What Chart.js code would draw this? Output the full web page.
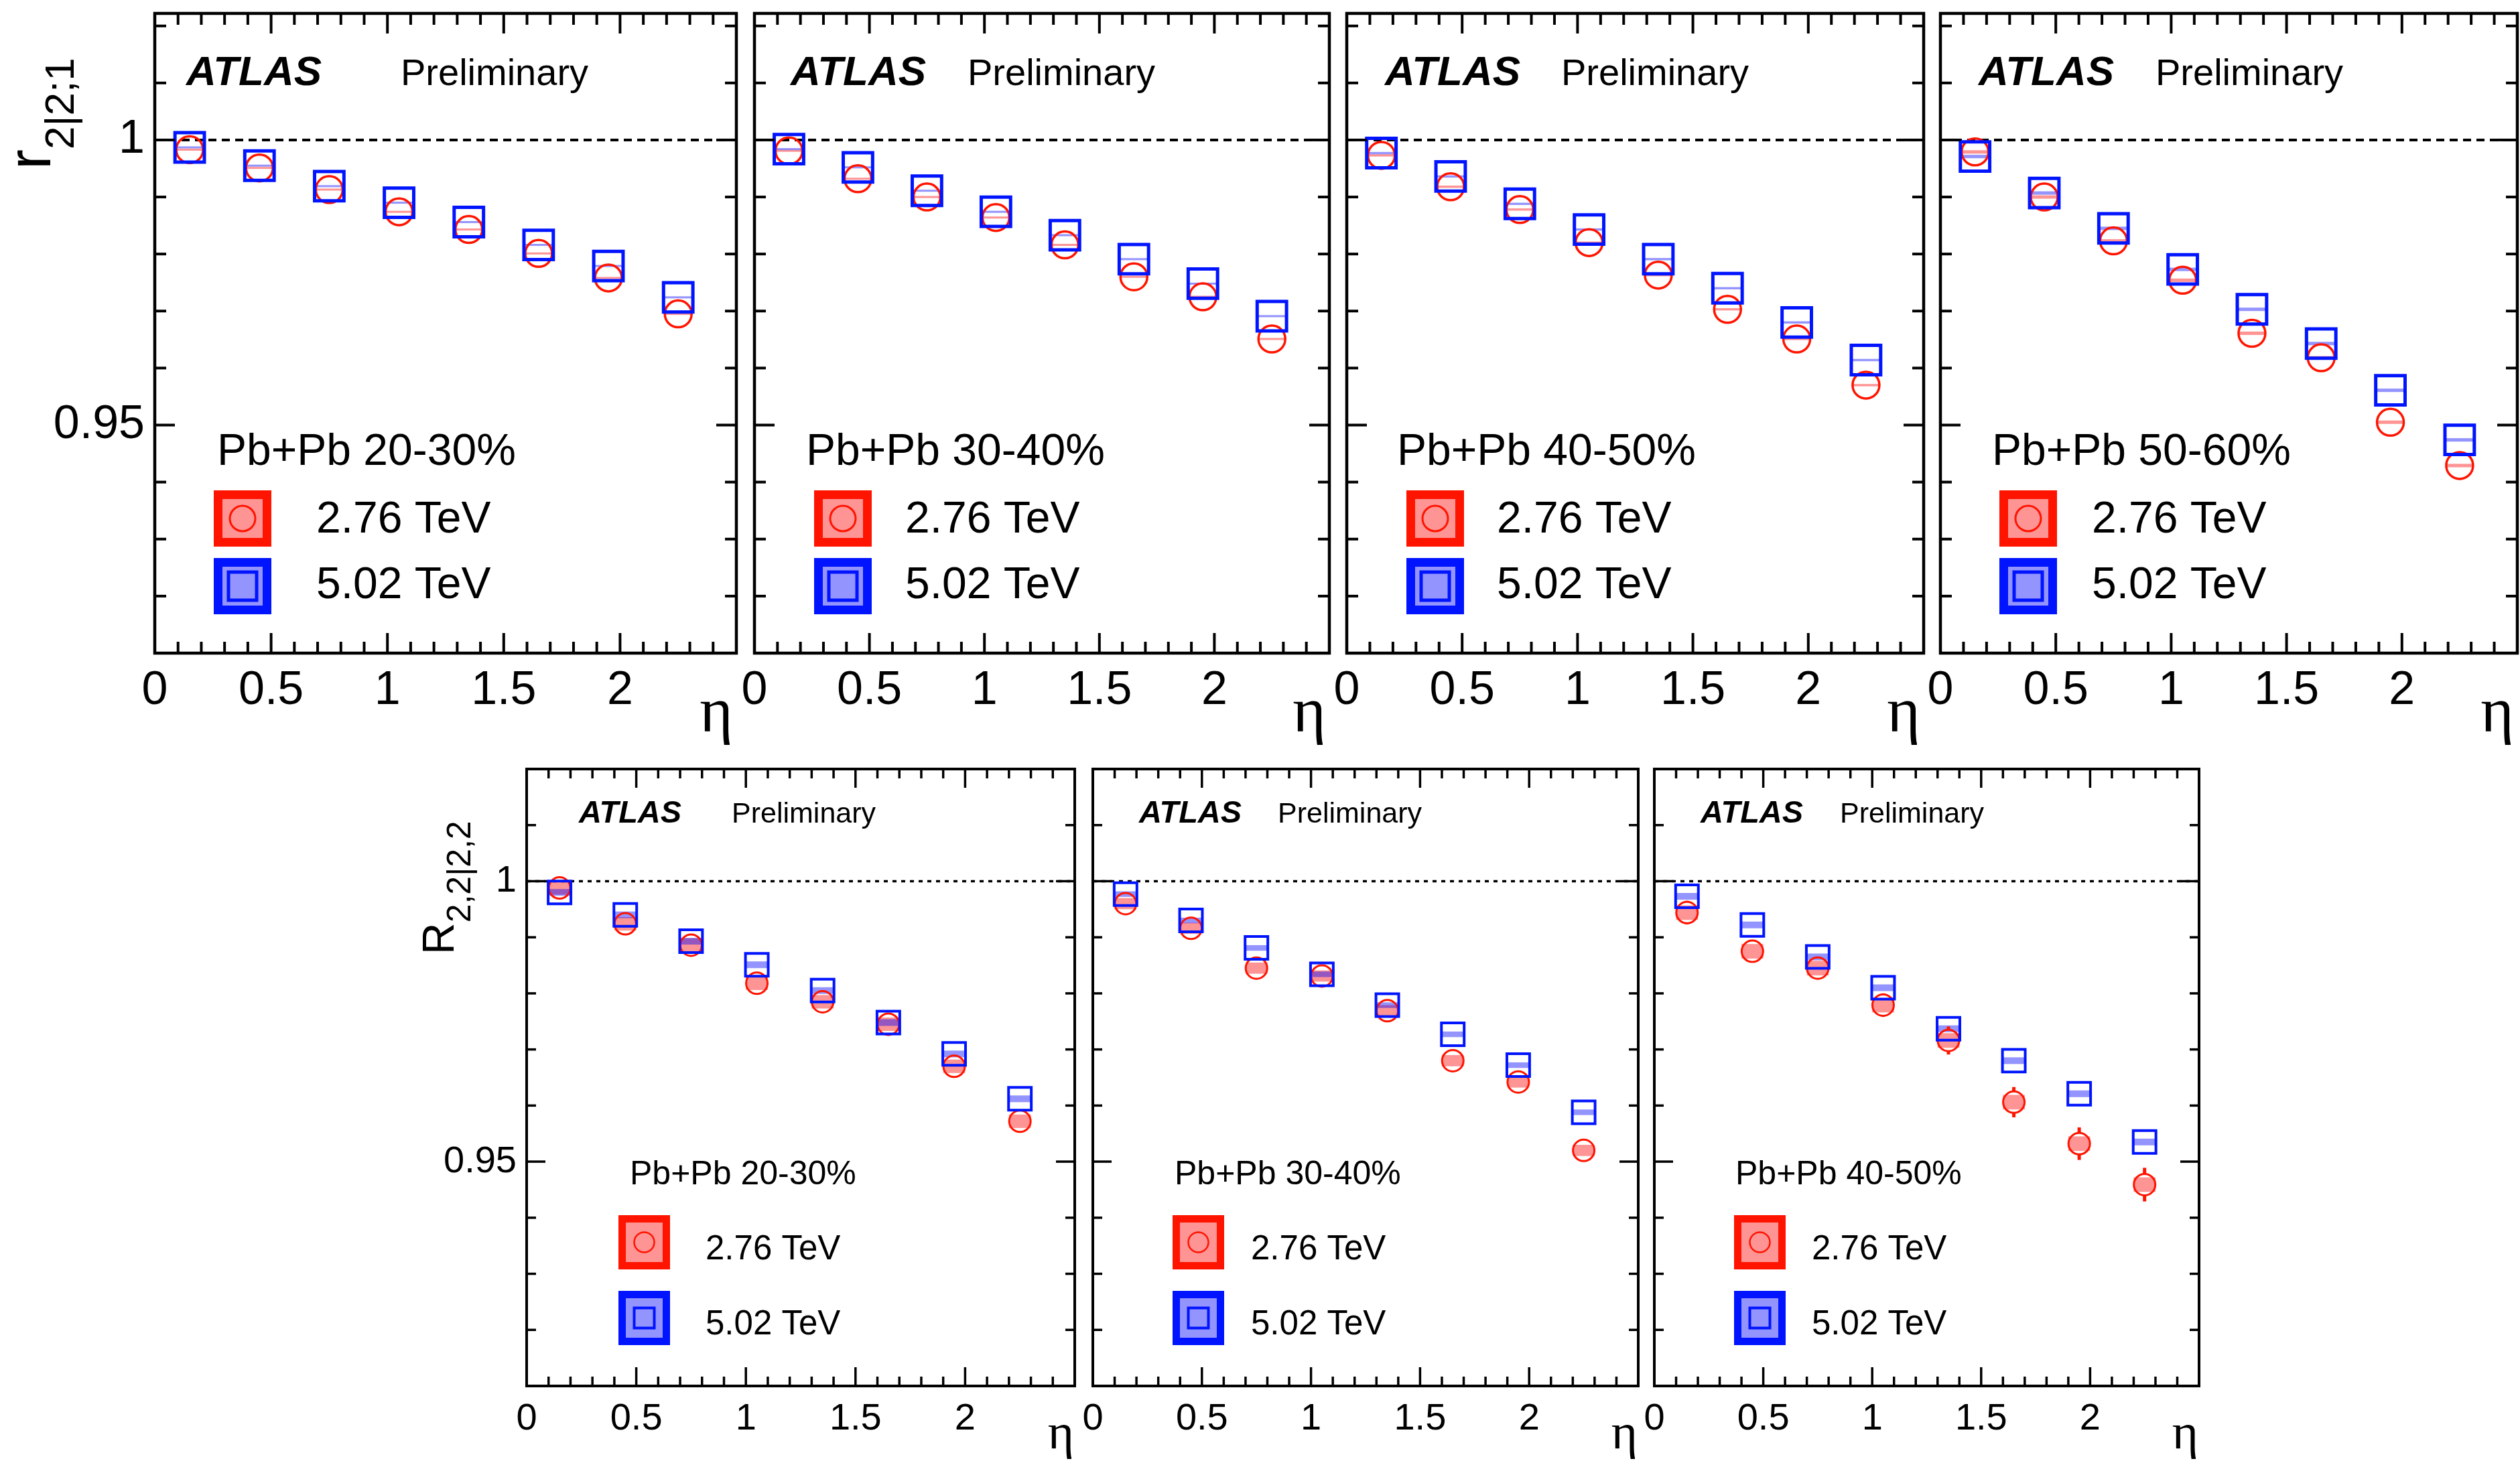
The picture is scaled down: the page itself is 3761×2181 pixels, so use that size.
<!DOCTYPE html>
<html>
<head>
<meta charset="utf-8">
<script src="https://cdn.jsdelivr.net/npm/chart.js@4.4.1/dist/chart.umd.min.js"></script>
<style>
  html, body { margin: 0; padding: 0; background: #fff; }
  #wrap { position: relative; width: 3761px; height: 2181px; overflow: hidden; background: #fff; }
  canvas { position: absolute; }
</style>
</head>
<body>
<div id="wrap"></div>
<script>
// eta bin centres (same for every panel)
const etaCenters = [0.15, 0.45, 0.75, 1.05, 1.35, 1.65, 1.95, 2.25];

const xTickValues = [0, 0.5, 1, 1.5, 2];
const xTickLabels = ['0', '0.5', '1', '1.5', '2'];
const yTickValues = [0.95, 1];
const yTickLabels = ['0.95', '1'];

const centTop = ['Pb+Pb 20-30%', 'Pb+Pb 30-40%', 'Pb+Pb 40-50%', 'Pb+Pb 50-60%'];
const centBottom = ['Pb+Pb 20-30%', 'Pb+Pb 30-40%', 'Pb+Pb 40-50%'];
const energyLabels = ['2.76 TeV', '5.02 TeV'];

// r_{2|2;1} (top row)
const r2030_276 = [0.9983, 0.9951, 0.9913, 0.9874, 0.9843, 0.9801, 0.9758, 0.9695];
const r2030_502 = [0.9987, 0.9955, 0.9919, 0.9890, 0.9856, 0.9816, 0.9779, 0.9724];
const r3040_276 = [0.9981, 0.9932, 0.9900, 0.9864, 0.9816, 0.9760, 0.9725, 0.9651];
const r3040_502 = [0.9984, 0.9952, 0.9911, 0.9874, 0.9833, 0.9791, 0.9748, 0.9691];
const r4050_276 = [0.9973, 0.9918, 0.9878, 0.9820, 0.9763, 0.9703, 0.9651, 0.9570];
const r4050_502 = [0.9977, 0.9936, 0.9888, 0.9843, 0.9791, 0.9740, 0.9680, 0.9614];
const r5060_276 = [0.9979, 0.9900, 0.9823, 0.9754, 0.9661, 0.9618, 0.9505, 0.9429];
const r5060_502 = [0.9971, 0.9907, 0.9845, 0.9773, 0.9703, 0.9643, 0.9561, 0.9474];

// R_{2,2|2,2} (bottom row)
const R2030_276 = [0.9988, 0.9924, 0.9886, 0.9818, 0.9785, 0.9745, 0.9670, 0.9572];
const R2030_502 = [0.9980, 0.9940, 0.9893, 0.9851, 0.9805, 0.9748, 0.9692, 0.9612];
const R3040_276 = [0.9960, 0.9916, 0.9845, 0.9831, 0.9769, 0.9680, 0.9642, 0.9520];
const R3040_502 = [0.9977, 0.9930, 0.9881, 0.9834, 0.9779, 0.9727, 0.9672, 0.9588];
const R4050_276 = [0.9944, 0.9875, 0.9845, 0.9779, 0.9716, 0.9606, 0.9532, 0.9459];
const R4050_502 = [0.9973, 0.9922, 0.9865, 0.9810, 0.9737, 0.9680, 0.9621, 0.9535];
const R4050_276_stat = [0.0021, 0.0020, 0.0020, 0.0021, 0.0025, 0.0027, 0.0029, 0.0030];

// systematic half-heights, one per panel (4 top, 3 bottom)
const sys276 = [0.00018, 0.00018, 0.0002, 0.0003, 0.0012, 0.0010, 0.0013];
const sys502 = [0.00018, 0.00018, 0.0002, 0.0003, 0.0006, 0.0005, 0.0006];

const RED = '#ff1400';
const BLUE = '#0014ff';
const SYS_RED = 'rgba(255,0,0,0.42)';
const SYS_BLUE = 'rgba(0,0,255,0.42)';
const SANS = '"Liberation Sans", Arial, Helvetica, sans-serif';
const SERIF = '"Liberation Serif", "Times New Roman", serif';

Chart.defaults.font.family = SANS;

const TOP = {
  tickFont: 70, tickPad: 15, atlasFont: 62, prelimFont: 56, centFont: 66, energyFont: 66, etaFont: 95,
  circleR: 20, rectR: 31, circleBW: 3.5, rectBW: 5,
  frameLW: 4.5, tickLW: 4, majorLen: 30, minorLen: 17, dash: [12, 8], dashLW: 4,
  atlasDy: 107, centDy: 674, box1Dy: 712, box2Dy: 813, boxW: 86, boxH: 84, boxLW: 13,
  text1Dy: 775, text2Dy: 873, legCircleR: 19, legCircleLW: 3, legSquareHalf: 21, legSquareLW: 5,
  etaDx: -5, etaDy: 117, sysHalfW: 0.06, padT: 20, padR: 15, padB: 160
};
const BOTTOM = {
  tickFont: 56, tickPad: 16, atlasFont: 47, prelimFont: 43, centFont: 50, energyFont: 51, etaFont: 75,
  circleR: 16, rectR: 24, circleBW: 3, rectBW: 4,
  frameLW: 4, tickLW: 3.5, majorLen: 28, minorLen: 14, dash: [6, 7], dashLW: 3.5,
  atlasDy: 80, centDy: 620, box1Dy: 666, box2Dy: 779, boxW: 77, boxH: 81, boxLW: 11,
  text1Dy: 732, text2Dy: 844, legCircleR: 15, legCircleLW: 2.5, legSquareHalf: 15, legSquareLW: 4,
  etaDx: -1, etaDy: 93, sysHalfW: 0.05, padT: 20, padR: 15, padB: 112
};

const panels = [
  { frame: [231, 20, 1099, 975], st: TOP, yMin: 0.91, yMax: 1.0222, cent: centTop[0], v276: r2030_276, v502: r2030_502, s: 0,
    yLabels: true, yTitle: { main: 'r', sub: '2|2;1', dx: -156, dy: 233, mainFont: 90, subFont: 62, subDy: 35 },
    off: { atlas: 47, prelim: 367, cent: 93, box: 88, text: 241 } },
  { frame: [1126, 20, 1984, 975], st: TOP, yMin: 0.91, yMax: 1.0222, cent: centTop[1], v276: r3040_276, v502: r3040_502, s: 1,
    off: { atlas: 54, prelim: 318, cent: 77, box: 89, text: 225 } },
  { frame: [2010, 20, 2871, 975], st: TOP, yMin: 0.91, yMax: 1.0222, cent: centTop[2], v276: r4050_276, v502: r4050_502, s: 2,
    off: { atlas: 57, prelim: 320, cent: 75, box: 89, text: 224 } },
  { frame: [2896, 20, 3757, 975], st: TOP, yMin: 0.91, yMax: 1.0222, cent: centTop[3], v276: r5060_276, v502: r5060_502, s: 3,
    off: { atlas: 57, prelim: 321, cent: 77, box: 88, text: 226 } },
  { frame: [786, 1148, 1604, 2069], st: BOTTOM, yMin: 0.91, yMax: 1.02, cent: centBottom[0], v276: R2030_276, v502: R2030_502, s: 4,
    yLabels: true, yTitle: { main: 'R', sub: '2,2|2,2', dx: -109, dy: 277, mainFont: 66, subFont: 50, subDy: 25 },
    off: { atlas: 78, prelim: 306, cent: 154, box: 137, text: 267 } },
  { frame: [1631, 1148, 2445, 2069], st: BOTTOM, yMin: 0.91, yMax: 1.02, cent: centBottom[1], v276: R3040_276, v502: R3040_502, s: 5,
    off: { atlas: 69, prelim: 276, cent: 122, box: 119, text: 236 } },
  { frame: [2469, 1148, 3282, 2069], st: BOTTOM, yMin: 0.91, yMax: 1.02, cent: centBottom[2], v276: R4050_276, v502: R4050_502, s: 6,
    err276: R4050_276_stat,
    off: { atlas: 69, prelim: 277, cent: 121, box: 119, text: 235 } }
];

function line(ctx, x0, y0, x1, y1) {
  ctx.beginPath(); ctx.moveTo(x0, y0); ctx.lineTo(x1, y1); ctx.stroke();
}

function legendEntry(ctx, x0, y0, st, isRed) {
  const w = st.boxW, h = st.boxH, lw = st.boxLW;
  ctx.fillStyle = isRed ? SYS_RED : SYS_BLUE;
  ctx.fillRect(x0, y0, w, h);
  ctx.lineWidth = lw;
  ctx.strokeStyle = isRed ? RED : BLUE;
  ctx.strokeRect(x0 + lw / 2, y0 + lw / 2, w - lw, h - lw);
  const cx = x0 + w / 2, cy = y0 + h / 2;
  if (isRed) {
    ctx.lineWidth = st.legCircleLW;
    ctx.beginPath(); ctx.arc(cx, cy, st.legCircleR, 0, Math.PI * 2); ctx.stroke();
  } else {
    const q = st.legSquareHalf;
    ctx.lineWidth = st.legSquareLW;
    ctx.strokeRect(cx - q, cy - q, 2 * q, 2 * q);
  }
}

// scales must not push the plot frame around
function noScalePadding(s) {
  s.paddingTop = 0; s.paddingBottom = 0; s.paddingLeft = 0; s.paddingRight = 0;
}

function makeDecor(pn) {
  const st = pn.st;
  return {
    id: 'decor',
    beforeDatasetsDraw(chart) {
      const { ctx, chartArea: a } = chart;
      const x = chart.scales.x, y = chart.scales.y;
      ctx.save();
      ctx.beginPath(); ctx.rect(a.left, a.top, a.right - a.left, a.bottom - a.top); ctx.clip();
      // reference line at 1
      ctx.setLineDash(st.dash);
      ctx.lineWidth = st.dashLW;
      ctx.strokeStyle = '#000';
      const y1 = y.getPixelForValue(1);
      line(ctx, a.left, y1, a.right, y1);
      ctx.setLineDash([]);
      // systematic boxes
      [[pn.v276, sys276[pn.s], SYS_RED], [pn.v502, sys502[pn.s], SYS_BLUE]].forEach(([vals, s, col]) => {
        ctx.fillStyle = col;
        vals.forEach((v, j) => {
          const xa = x.getPixelForValue(etaCenters[j] - st.sysHalfW);
          const xb = x.getPixelForValue(etaCenters[j] + st.sysHalfW);
          const ya = y.getPixelForValue(v + s);
          const yb = y.getPixelForValue(v - s);
          ctx.fillRect(xa, ya, xb - xa, yb - ya);
        });
      });
      // statistical error bars (outside the marker)
      if (pn.err276) {
        ctx.strokeStyle = RED;
        ctx.lineWidth = 5;
        pn.v276.forEach((v, j) => {
          const px = x.getPixelForValue(etaCenters[j]);
          const pc = y.getPixelForValue(v);
          const pt = y.getPixelForValue(v + pn.err276[j]);
          const pb = y.getPixelForValue(v - pn.err276[j]);
          if (pt < pc - st.circleR) line(ctx, px, pt, px, pc - st.circleR);
          if (pb > pc + st.circleR) line(ctx, px, pc + st.circleR, px, pb);
        });
      }
      ctx.restore();
    },
    afterDraw(chart) {
      const { ctx, chartArea: a } = chart;
      const x = chart.scales.x, y = chart.scales.y;
      ctx.save();
      // ticks, inward, all four sides
      ctx.strokeStyle = '#000';
      ctx.lineWidth = st.tickLW;
      for (let k = 1; k < 25; k++) {
        const L = k % 5 === 0 ? st.majorLen : st.minorLen;
        const px = x.getPixelForValue(k / 10);
        line(ctx, px, a.bottom, px, a.bottom - L);
        line(ctx, px, a.top, px, a.top + L);
      }
      for (let k = Math.ceil(pn.yMin * 100 - 1e-6); k <= Math.floor(pn.yMax * 100 + 1e-6); k++) {
        const L = k % 5 === 0 ? st.majorLen : st.minorLen;
        const py = y.getPixelForValue(k / 100);
        line(ctx, a.left, py, a.left + L, py);
        line(ctx, a.right, py, a.right - L, py);
      }
      // frame
      ctx.lineWidth = st.frameLW;
      ctx.strokeRect(a.left, a.top, a.right - a.left, a.bottom - a.top);

      // labels
      ctx.fillStyle = '#000';
      ctx.textAlign = 'left';
      ctx.textBaseline = 'alphabetic';
      ctx.font = `italic bold ${st.atlasFont}px ${SANS}`;
      ctx.fillText('ATLAS', a.left + pn.off.atlas, a.top + st.atlasDy);
      ctx.font = `${st.prelimFont}px ${SANS}`;
      ctx.fillText('Preliminary', a.left + pn.off.prelim, a.top + st.atlasDy);
      ctx.font = `${st.centFont}px ${SANS}`;
      ctx.fillText(pn.cent, a.left + pn.off.cent, a.top + st.centDy);

      // legend
      legendEntry(ctx, a.left + pn.off.box, a.top + st.box1Dy, st, true);
      legendEntry(ctx, a.left + pn.off.box, a.top + st.box2Dy, st, false);
      ctx.fillStyle = '#000';
      ctx.font = `${st.energyFont}px ${SANS}`;
      ctx.fillText(energyLabels[0], a.left + pn.off.text, a.top + st.text1Dy);
      ctx.fillText(energyLabels[1], a.left + pn.off.text, a.top + st.text2Dy);

      // eta axis title
      ctx.font = `${st.etaFont}px ${SERIF}`;
      ctx.textAlign = 'right';
      ctx.fillText('\u03b7', a.right + st.etaDx, a.bottom + st.etaDy);

      // y axis title with subscript
      if (pn.yTitle) {
        const t = pn.yTitle;
        ctx.translate(a.left + t.dx, a.top + t.dy);
        ctx.rotate(-Math.PI / 2);
        ctx.textAlign = 'left';
        ctx.font = `${t.mainFont}px ${SANS}`;
        ctx.fillText(t.main, 0, 0);
        const w = ctx.measureText(t.main).width;
        ctx.font = `${t.subFont}px ${SANS}`;
        ctx.fillText(t.sub, w, t.subDy);
      }
      ctx.restore();
    }
  };
}

const wrap = document.getElementById('wrap');

panels.forEach(pn => {
  const st = pn.st;
  const [fl, ft, fr, fb] = pn.frame;
  const padL = pn.yLabels ? (pn.st === TOP ? fl : fl - 600) : 40;
  const W = (fr - fl) + padL + st.padR;
  const H = (fb - ft) + st.padT + st.padB;
  const canvas = document.createElement('canvas');
  canvas.width = W; canvas.height = H;
  canvas.style.width = W + 'px'; canvas.style.height = H + 'px';
  canvas.style.left = (fl - padL) + 'px';
  canvas.style.top = (ft - st.padT) + 'px';
  wrap.appendChild(canvas);

  new Chart(canvas, {
    type: 'scatter',
    data: {
      datasets: [
        {
          label: energyLabels[0],
          data: etaCenters.map((e, i) => ({ x: e, y: pn.v276[i] })),
          pointStyle: 'circle',
          pointRadius: st.circleR,
          borderWidth: st.circleBW,
          borderColor: RED,
          backgroundColor: 'rgba(0,0,0,0)',
          order: 2
        },
        {
          label: energyLabels[1],
          data: etaCenters.map((e, i) => ({ x: e, y: pn.v502[i] })),
          pointStyle: 'rect',
          pointRadius: st.rectR,
          borderWidth: st.rectBW,
          borderColor: BLUE,
          backgroundColor: 'rgba(0,0,0,0)',
          order: 1
        }
      ]
    },
    options: {
      responsive: false,
      animation: false,
      devicePixelRatio: 1,
      events: [],
      layout: { autoPadding: false, padding: { left: 0, top: st.padT, right: st.padR, bottom: 0 } },
      plugins: { legend: { display: false }, tooltip: { enabled: false } },
      scales: {
        x: {
          type: 'linear', min: 0, max: 2.5,
          grid: { display: false, drawTicks: false },
          border: { display: false },
          afterBuildTicks: s => { s.ticks = xTickValues.map(v => ({ value: v })); },
          afterFit: s => { s.height = st.padB; noScalePadding(s); },
          ticks: {
            autoSkip: false, maxRotation: 0, minRotation: 0,
            padding: st.tickPad, color: '#000',
            font: { size: st.tickFont },
            callback: (v, i) => xTickLabels[i]
          }
        },
        y: {
          type: 'linear', min: pn.yMin, max: pn.yMax,
          grid: { display: false, drawTicks: false },
          border: { display: false },
          afterBuildTicks: s => { s.ticks = yTickValues.map(v => ({ value: v })); },
          afterFit: s => { s.width = padL; noScalePadding(s); },
          ticks: {
            display: !!pn.yLabels,
            autoSkip: false,
            padding: 15, color: '#000',
            font: { size: st.tickFont },
            callback: (v, i) => yTickLabels[i]
          }
        }
      }
    },
    plugins: [makeDecor(pn)]
  });
});
</script>
</body>
</html>
